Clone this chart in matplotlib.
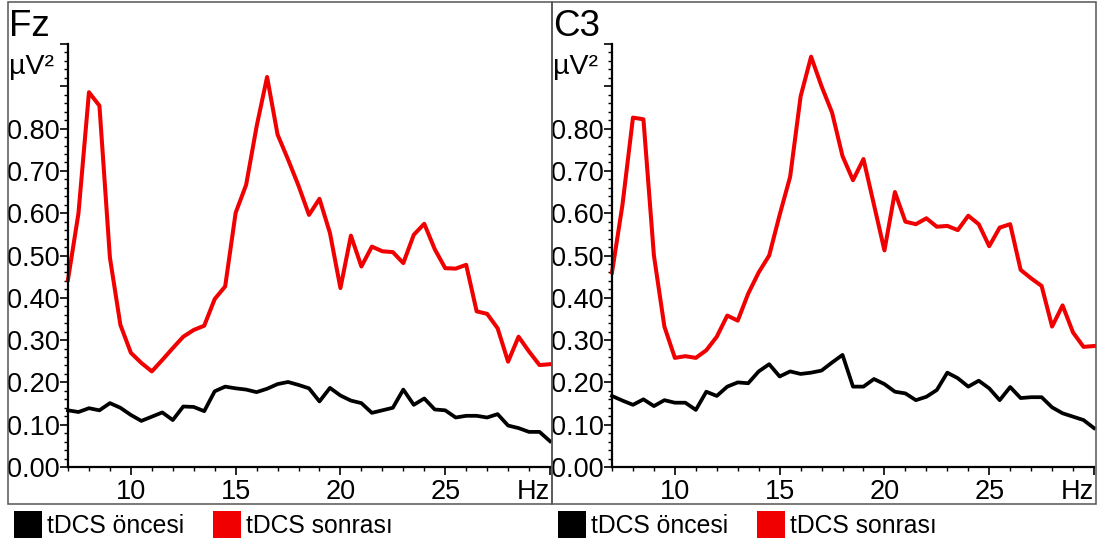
import numpy as np
import matplotlib.pyplot as plt
from matplotlib.patches import Rectangle
from matplotlib.ticker import MultipleLocator, FixedLocator

plt.rcParams["font.family"] = ["Liberation Sans", "DejaVu Sans"]

# power spectra, 7-30 Hz in 0.5 Hz bins
freq = np.arange(7.0, 30.5, 0.5)

fz_before = [0.134, 0.130, 0.139, 0.134, 0.151, 0.140,
             0.123, 0.109, 0.119, 0.129, 0.111, 0.143, 0.142, 0.132, 0.179, 0.190,
             0.186, 0.183, 0.177, 0.185, 0.196, 0.201, 0.194, 0.186, 0.155, 0.187,
             0.169, 0.157, 0.151, 0.128, 0.134, 0.140, 0.183, 0.147, 0.162, 0.136,
             0.134, 0.117, 0.121, 0.121, 0.117, 0.125, 0.098, 0.092, 0.083, 0.083,
             0.061]
fz_after = [0.443, 0.600, 0.886, 0.854, 0.495, 0.336,
            0.270, 0.246, 0.226, 0.253, 0.281, 0.308, 0.324, 0.334, 0.397, 0.427,
            0.601, 0.667, 0.805, 0.922, 0.786, 0.727, 0.665, 0.596, 0.634, 0.553,
            0.423, 0.547, 0.474, 0.521, 0.510, 0.508, 0.482, 0.549, 0.575, 0.515,
            0.470, 0.469, 0.478, 0.368, 0.362, 0.328, 0.249, 0.308, 0.273, 0.241,
            0.243]
c3_before = [0.168, 0.157, 0.147, 0.160, 0.144, 0.158,
             0.152, 0.152, 0.135, 0.178, 0.168, 0.190, 0.200, 0.198, 0.226, 0.243,
             0.214, 0.226, 0.220, 0.223, 0.228, 0.247, 0.265, 0.190, 0.190, 0.208,
             0.196, 0.178, 0.174, 0.158, 0.166, 0.182, 0.223, 0.210, 0.190, 0.204,
             0.186, 0.158, 0.189, 0.163, 0.165, 0.165, 0.141, 0.127, 0.119, 0.111,
             0.092]
c3_after = [0.460, 0.620, 0.826, 0.822, 0.500, 0.332,
            0.258, 0.262, 0.258, 0.276, 0.308, 0.358, 0.346, 0.410, 0.460, 0.500,
            0.596, 0.686, 0.876, 0.970, 0.900, 0.838, 0.735, 0.678, 0.728, 0.620,
            0.512, 0.650, 0.580, 0.574, 0.588, 0.568, 0.570, 0.560, 0.594, 0.574,
            0.522, 0.566, 0.574, 0.466, 0.446, 0.428, 0.332, 0.382, 0.318, 0.284,
            0.286]

channels = ["Fz", "C3"]
series_labels = ["tDCS öncesi", "tDCS sonrası"]
series_colors = ["#000000", "#f00000"]
x_ticks = [10, 15, 20, 25, 30]
x_ticklabels = ["10", "15", "20", "25", "Hz"]
y_ticks = [0.0, 0.1, 0.2, 0.3, 0.4, 0.5, 0.6, 0.7, 0.8, 0.9, 1.0]
y_ticklabels = ["0.00", "0.10", "0.20", "0.30", "0.40", "0.50", "0.60",
                "0.70", "0.80", "", ""]

W, H = 1101, 547
fig = plt.figure(figsize=(W / 100, H / 100), dpi=100)


def px(x, y):
    """Pixel position (from top-left) to figure fraction."""
    return x / W, 1 - y / H


def panel(x0, name, before, after):
    # frame round the whole panel
    fx, fy = px(x0 - 60, 504)
    fig.patches.append(Rectangle((fx, fy), 544 / W, 502 / H,
                                 transform=fig.transFigure, fill=False,
                                 edgecolor="#555555", linewidth=1.1))

    left, bottom = px(x0, 467)
    ax = fig.add_axes([left, bottom, 482 / W, 423 / H])
    ax.plot(freq, before, color=series_colors[0], lw=2.7, clip_on=False)
    ax.plot(freq, after, color=series_colors[1], lw=2.9, clip_on=False)
    ax.set_xlim(7, 30)
    ax.set_ylim(0, 1.0)

    for side in ("top", "right"):
        ax.spines[side].set_visible(False)
    for side in ("left", "bottom"):
        ax.spines[side].set_linewidth(1.6)

    ax.xaxis.set_major_locator(FixedLocator(x_ticks))
    ax.set_xticklabels(x_ticklabels)
    ax.xaxis.set_minor_locator(MultipleLocator(1))
    ax.yaxis.set_major_locator(FixedLocator(y_ticks))
    ax.set_yticklabels(y_ticklabels)
    ax.yaxis.set_minor_locator(MultipleLocator(0.02))
    ax.tick_params(axis="both", which="major", direction="out", length=5.5,
                   width=1.2, labelsize=19.5, colors="black")
    ax.tick_params(axis="both", which="minor", direction="out", length=3,
                   width=1.0)
    ax.tick_params(axis="y", which="major", pad=0.5)
    ax.tick_params(axis="x", which="major", pad=3)
    for lab in ax.get_xticklabels():
        if lab.get_text() == "Hz":
            lab.set_ha("right")

    tx, ty = px(x0 - 59, 36)
    fig.text(tx, ty, name, fontsize=26.5, va="baseline", ha="left")
    ux, uy = px(x0 - 59, 74)
    fig.text(ux, uy, "µV²", fontsize=20.5, va="baseline", ha="left")

    # legend: coloured squares with labels underneath the frame
    for sx, tx_, col, lab in zip((x0 - 54, x0 + 145), (x0 - 21, x0 + 178),
                                 series_colors, series_labels):
        rx, ry = px(sx, 538)
        fig.patches.append(Rectangle((rx, ry), 28 / W, 27 / H,
                                     transform=fig.transFigure,
                                     facecolor=col, edgecolor="none"))
        lx, ly = px(tx_, 533)
        fig.text(lx, ly, lab, fontsize=17.8, va="baseline", ha="left")
    return ax


panel(68, channels[0], fz_before, fz_after)
panel(612, channels[1], c3_before, c3_after)

fig.savefig("out.png", dpi=100, facecolor="white")
